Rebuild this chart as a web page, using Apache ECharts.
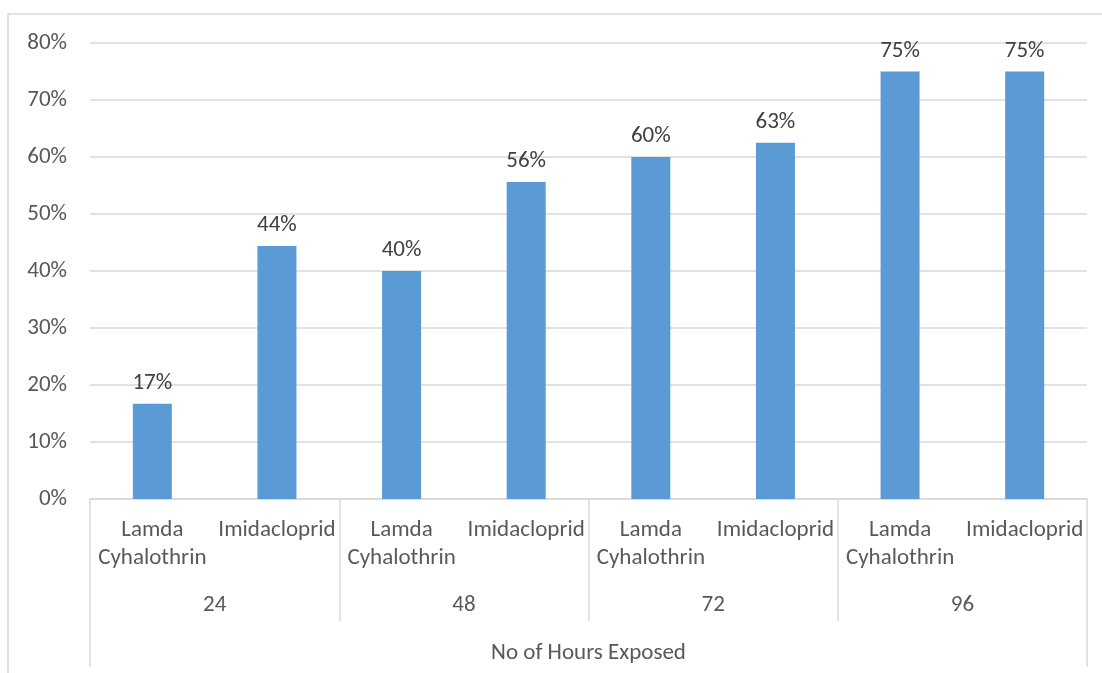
<!DOCTYPE html>
<html>
<head>
<meta charset="utf-8">
<script src="https://cdn.jsdelivr.net/npm/echarts@6/dist/echarts.min.js"></script>
<style>
  html, body { margin: 0; padding: 0; background: #fff; }
  #main { width: 1102px; height: 673px; }
</style>
</head>
<body>
<div id="main"></div>
<script>
// 数据
const products = ["Lamda\nCyhalothrin", "Imidacloprid", "Lamda\nCyhalothrin", "Imidacloprid",
                  "Lamda\nCyhalothrin", "Imidacloprid", "Lamda\nCyhalothrin", "Imidacloprid"];
const hours = ["24", "48", "72", "96"];
const axisTitle = ["No of Hours Exposed"];
const mortality = [0.167, 0.444, 0.40, 0.556, 0.60, 0.625, 0.75, 0.75];

const font = "Calibri, Carlito, 'Noto Sans', sans-serif";
const fs = 23;
const grey = "#595959";
const lineGrey = "#d9d9d9";

let chart = echarts.init(document.getElementById("main"));

chart.setOption({
  animation: false,
  textStyle: { fontFamily: font },
  grid: { left: 90, right: 15, top: 43, bottom: 174 },
  // 外框
  graphic: [
    {
      type: "rect",
      shape: { x: 8, y: 14, width: 1100, height: 700 },
      style: { fill: "none", stroke: lineGrey, lineWidth: 1.5 },
      silent: true
    }
  ],
  xAxis: [
    {
      type: "category",
      data: products,
      axisLine: { lineStyle: { color: lineGrey, width: 1.5 } },
      axisTick: { show: false },
      axisLabel: {
        color: grey, fontSize: fs, lineHeight: 28, margin: 17,
        interval: 0, fontFamily: font
      }
    },
    {
      type: "category",
      data: hours,
      position: "bottom",
      axisLine: { show: false },
      axisTick: { show: true, length: 122, lineStyle: { color: lineGrey, width: 1.5 } },
      axisLabel: { color: grey, fontSize: fs, margin: 95, fontFamily: font }
    },
    {
      type: "category",
      data: axisTitle,
      position: "bottom",
      axisLine: { show: false },
      axisTick: { show: true, length: 168, lineStyle: { color: lineGrey, width: 1.5 } },
      axisLabel: { color: grey, fontSize: fs, margin: 143, fontFamily: font }
    }
  ],
  yAxis: {
    type: "value",
    min: 0,
    max: 0.8,
    interval: 0.1,
    axisLine: { show: false },
    axisTick: { show: false },
    splitLine: { lineStyle: { color: lineGrey, width: 1.5 } },
    axisLabel: {
      color: grey, fontSize: fs, margin: 23, fontFamily: font,
      formatter: (v) => Math.round(v * 100) + "%"
    }
  },
  series: [
    {
      type: "bar",
      xAxisIndex: 0,
      data: mortality,
      barWidth: 39,
      itemStyle: { color: "#5b9bd5" },
      label: {
        show: true,
        position: "top",
        distance: 9,
        color: "#404040",
        fontSize: fs,
        fontFamily: font,
        formatter: (p) => Math.round(p.value * 100) + "%"
      }
    }
  ]
});
</script>
</body>
</html>
